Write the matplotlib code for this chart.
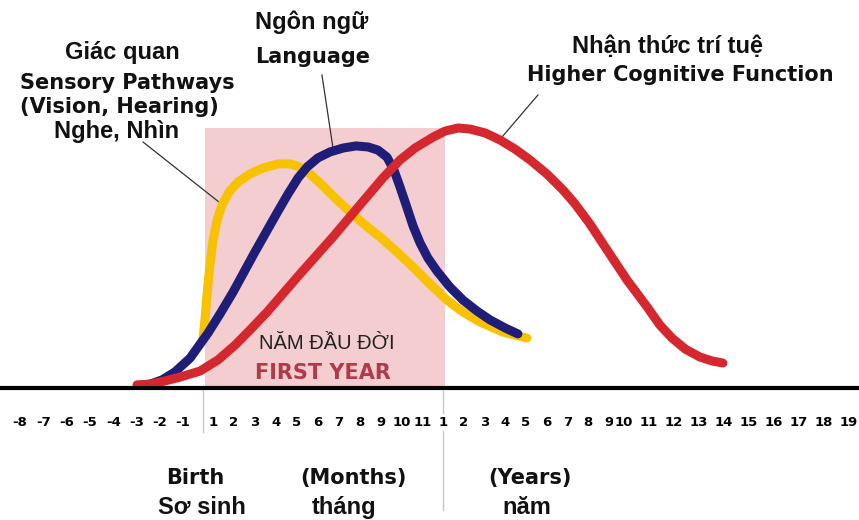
import numpy as np
import matplotlib.pyplot as plt

# timeline labels: prenatal months, months of first year, years
neg_labels = ['-8', '-7', '-6', '-5', '-4', '-3', '-2', '-1']
month_labels = [str(m) for m in range(1, 12)]
year_labels = [str(y) for y in range(1, 20)]

# curves (x = timeline unit, y = level, peak ~100)
sensory_x = [8.13, 8.22, 8.31, 8.44, 8.58, 8.76, 8.98, 9.29, 9.69, 10.22, 10.8, 11.47,
             12.0, 12.44, 12.89, 13.42, 14.0, 14.67, 15.33, 16.0, 16.76, 17.47, 18.22,
             18.98, 19.69, 20.44, 21.47, 22.53]
sensory_y = [18.5, 26.2, 35.8, 47.3, 56.9, 64.6, 70.4, 75.4, 79.2, 82.3, 84.6, 86.2,
             86.2, 85.0, 82.3, 78.1, 73.1, 67.7, 62.7, 58.1, 52.3, 46.5, 40.0,
             33.8, 29.2, 25.4, 21.5, 19.2]

language_x = [5.33, 5.78, 6.31, 6.89, 7.56, 8.36, 8.89, 9.47, 10.44, 11.42, 11.91, 12.36,
              12.76, 13.24, 13.78, 14.36, 14.93, 15.47, 15.91, 16.31, 16.62, 16.89, 17.16,
              17.47, 17.78, 18.13, 18.53, 19.11, 19.69, 20.31, 20.89, 21.56, 22.13]
language_y = [0.8, 1.5, 3.1, 6.2, 11.5, 21.2, 28.5, 36.9, 52.3, 67.3, 74.6, 80.8,
              85.0, 88.5, 90.8, 92.3, 93.1, 92.7, 91.5, 88.8, 83.8, 77.3, 70.4,
              62.3, 55.8, 50.0, 45.0, 38.8, 33.8, 29.6, 26.2, 23.1, 20.8]

cognitive_x = [5.2, 5.78, 6.44, 7.11, 8.0, 8.8, 9.56, 10.22, 10.98, 12.44, 13.91, 15.11,
               16.13, 16.89, 17.56, 18.36, 18.89, 19.47, 20.0, 20.67, 21.33, 22.0, 22.67,
               23.42, 24.13, 24.67, 25.33, 26.09, 26.98, 27.87, 28.44, 28.98, 29.56,
               30.22, 30.76, 31.24]
cognitive_y = [1.2, 1.5, 2.7, 4.2, 6.5, 10.8, 16.5, 22.3, 29.2, 43.8, 58.1, 70.4,
               80.8, 87.7, 92.3, 96.5, 98.8, 100, 99.6, 98.1, 95.4, 91.9, 87.7,
               82.3, 76.2, 70.8, 63.1, 53.1, 41.5, 31.2, 24.2, 19.2, 15.0,
               11.9, 10.4, 9.6]

first_year = (8.22, 18.89)

# tick positions on the timeline (label groups are spaced a little differently)
neg_pos = np.arange(8) * 1.0356
month_pos = (193 + np.arange(11) * 21.0) / 22.5
year_pos = np.concatenate([(423 + np.arange(9) * 20.7) / 22.5,
                           (604 + np.arange(10) * 25.0) / 22.5])

fig = plt.figure(figsize=(8.59, 5.2), dpi=100)
ax = fig.add_axes([0, 132 / 520, 1, 388 / 520])
ax.set_xlim(-20 / 22.5, 839 / 22.5)
ax.set_ylim(0, 388 / 2.6)

ax.fill_between(first_year, 0, 100, color='#f3cdd0', lw=0, zorder=0)

kw = dict(lw=6.5, solid_capstyle='round', solid_joinstyle='round')
ax.plot(sensory_x, sensory_y, color='#f8c200', zorder=2, **kw)
ax.plot(language_x, language_y, color='#1e1e78', zorder=3, **kw)
ax.plot(cognitive_x, cognitive_y, color='#d4282e', zorder=4, **kw)

for s in ['top', 'left', 'right']:
    ax.spines[s].set_visible(False)
ax.spines['bottom'].set_linewidth(3)
ax.spines['bottom'].set_zorder(5)
ax.set_yticks([])
ax.set_xticks(np.concatenate([neg_pos, month_pos, year_pos]),
              neg_labels + month_labels + year_labels)
ax.tick_params(axis='x', length=0, pad=20, labelsize=9.5)
ax.xaxis.set_zorder(6)
for t in ax.get_xticklabels():
    t.set_fontweight('bold')
    t.set_bbox(dict(facecolor='white', edgecolor='none', pad=1.5))

# divider lines under the axis
ax.plot([8.13, 8.13], [0, -16.9], color='#c8c8c8', lw=1, clip_on=False, zorder=1)
ax.plot([18.8, 18.8], [0, -47], color='#c8c8c8', lw=1, clip_on=False, zorder=1)

vi = dict(family='Liberation Sans', fontweight='bold', fontsize=17, ha='center', va='center',
          color='#111111')
en = dict(family='DejaVu Sans', fontweight='bold', fontsize=15, ha='center', va='center',
          color='#111111')

ax.text(4.53, 129.2, 'Giác quan', **vi)
ax.text(4.76, 117.3, 'Sensory Pathways', **en)
ax.text(4.4, 108.1, '(Vision, Hearing)', **en)
ax.text(4.27, 98.5, 'Nghe, Nhìn', **vi)
ax.plot([5.47, 8.89], [94.6, 71.2], color='#333333', lw=0.9, zorder=1)

ax.text(12.98, 140.8, 'Ngôn ngữ', **vi)
ax.text(13.02, 127.3, 'Language', **en)
ax.plot([13.42, 13.91], [120.4, 92.3], color='#333333', lw=0.9, zorder=1)

ax.text(28.8, 131.2, 'Nhận thức trí tuệ', **vi)
ax.text(29.33, 120.4, 'Higher Cognitive Function', **en)
ax.plot([23.02, 21.42], [112.7, 96.5], color='#333333', lw=0.9, zorder=1)

ax.text(13.64, 17.3, 'NĂM ĐẦU ĐỜI', family='Liberation Sans', fontsize=14.5,
        ha='center', va='center', color='#222222', zorder=5)
ax.text(13.47, 5.8, 'FIRST YEAR', family='DejaVu Sans', fontweight='bold', fontsize=15,
        ha='center', va='center', color='#b23a48', zorder=5)

ax.text(7.78, -34.6, 'Birth', clip_on=False, **en)
ax.text(8.09, -45.8, 'Sơ sinh', clip_on=False, **vi)
ax.text(14.8, -34.6, '(Months)', clip_on=False, **en)
ax.text(14.4, -45.8, 'tháng', clip_on=False, **vi)
ax.text(22.67, -34.6, '(Years)', clip_on=False, **en)
ax.text(22.53, -45.8, 'năm', clip_on=False, **vi)

plt.savefig('out.png', dpi=100)
